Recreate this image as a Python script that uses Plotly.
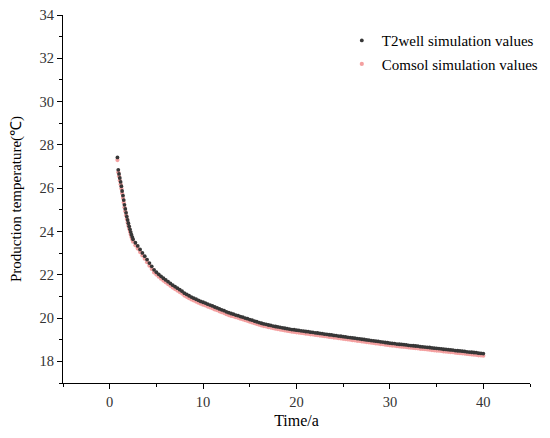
import plotly.graph_objects as go

# Time (years): monthly samples at the start, then quarterly samples
time_early = [0.83, 0.92, 1.0, 1.08, 1.17, 1.25, 1.33, 1.42, 1.5, 1.58,
              1.67, 1.75, 1.83, 1.92, 2.0, 2.08, 2.17, 2.25, 2.33, 2.42, 2.5]
time_late = [2.75, 3.0, 3.25, 3.5, 3.75, 4.0, 4.25, 4.5, 4.75, 5.0,
             5.25, 5.5, 5.75, 6.0, 6.25, 6.5, 6.75, 7.0, 7.25, 7.5,
             7.75, 8.0, 8.25, 8.5, 8.75, 9.0, 9.25, 9.5, 9.75, 10.0,
             10.25, 10.5, 10.75, 11.0, 11.25, 11.5, 11.75, 12.0, 12.25, 12.5,
             12.75, 13.0, 13.25, 13.5, 13.75, 14.0, 14.25, 14.5, 14.75, 15.0,
             15.25, 15.5, 15.75, 16.0, 16.25, 16.5, 16.75, 17.0, 17.25, 17.5,
             17.75, 18.0, 18.25, 18.5, 18.75, 19.0, 19.25, 19.5, 19.75, 20.0,
             20.25, 20.5, 20.75, 21.0, 21.25, 21.5, 21.75, 22.0, 22.25, 22.5,
             22.75, 23.0, 23.25, 23.5, 23.75, 24.0, 24.25, 24.5, 24.75, 25.0,
             25.25, 25.5, 25.75, 26.0, 26.25, 26.5, 26.75, 27.0, 27.25, 27.5,
             27.75, 28.0, 28.25, 28.5, 28.75, 29.0, 29.25, 29.5, 29.75, 30.0,
             30.25, 30.5, 30.75, 31.0, 31.25, 31.5, 31.75, 32.0, 32.25, 32.5,
             32.75, 33.0, 33.25, 33.5, 33.75, 34.0, 34.25, 34.5, 34.75, 35.0,
             35.25, 35.5, 35.75, 36.0, 36.25, 36.5, 36.75, 37.0, 37.25, 37.5,
             37.75, 38.0, 38.25, 38.5, 38.75, 39.0, 39.25, 39.5, 39.75, 40.0]

t2well_early = [27.42, 26.85, 26.66, 26.47, 26.29, 26.09, 25.87, 25.66, 25.45, 25.23,
                25.04, 24.86, 24.69, 24.53, 24.38, 24.24, 24.10, 23.97, 23.85, 23.74, 23.64]
t2well_late = [23.48, 23.33, 23.17, 23.01, 22.86, 22.70, 22.54, 22.39, 22.23, 22.12,
               22.02, 21.93, 21.84, 21.76, 21.68, 21.60, 21.52, 21.45, 21.38, 21.31,
               21.24, 21.15, 21.09, 21.03, 20.97, 20.92, 20.87, 20.82, 20.77, 20.73,
               20.69, 20.64, 20.60, 20.56, 20.51, 20.47, 20.42, 20.38, 20.34, 20.29,
               20.25, 20.21, 20.18, 20.14, 20.11, 20.07, 20.04, 20.00, 19.97, 19.93,
               19.90, 19.86, 19.83, 19.79, 19.76, 19.73, 19.71, 19.68, 19.66, 19.63,
               19.61, 19.59, 19.57, 19.55, 19.53, 19.51, 19.49, 19.47, 19.46, 19.44,
               19.43, 19.41, 19.40, 19.38, 19.37, 19.35, 19.34, 19.32, 19.31, 19.29,
               19.28, 19.26, 19.25, 19.23, 19.22, 19.20, 19.19, 19.17, 19.16, 19.14,
               19.13, 19.11, 19.10, 19.08, 19.07, 19.05, 19.04, 19.02, 19.01, 18.99,
               18.98, 18.96, 18.95, 18.93, 18.92, 18.90, 18.89, 18.87, 18.86, 18.84,
               18.83, 18.82, 18.80, 18.79, 18.78, 18.77, 18.76, 18.74, 18.73, 18.72,
               18.71, 18.70, 18.68, 18.67, 18.66, 18.65, 18.64, 18.62, 18.61, 18.60,
               18.59, 18.58, 18.56, 18.55, 18.54, 18.53, 18.52, 18.50, 18.49, 18.48,
               18.47, 18.46, 18.44, 18.43, 18.42, 18.41, 18.40, 18.38, 18.37, 18.36]

comsol_early = [27.30, 26.74, 26.55, 26.36, 26.18, 25.98, 25.76, 25.55, 25.34, 25.12,
                24.93, 24.75, 24.58, 24.42, 24.27, 24.13, 23.99, 23.86, 23.74, 23.63, 23.53]
comsol_late = [23.36, 23.21, 23.05, 22.89, 22.74, 22.58, 22.42, 22.27, 22.11, 22.01,
               21.91, 21.82, 21.73, 21.65, 21.57, 21.49, 21.41, 21.34, 21.27, 21.20,
               21.13, 21.04, 20.98, 20.92, 20.86, 20.81, 20.76, 20.71, 20.66, 20.62,
               20.58, 20.53, 20.49, 20.45, 20.40, 20.36, 20.31, 20.27, 20.23, 20.18,
               20.14, 20.10, 20.08, 20.04, 20.01, 19.97, 19.94, 19.90, 19.87, 19.83,
               19.80, 19.76, 19.73, 19.69, 19.66, 19.63, 19.61, 19.58, 19.56, 19.53,
               19.51, 19.49, 19.47, 19.45, 19.43, 19.41, 19.39, 19.37, 19.36, 19.34,
               19.33, 19.31, 19.30, 19.28, 19.27, 19.25, 19.24, 19.22, 19.21, 19.19,
               19.18, 19.16, 19.15, 19.13, 19.12, 19.10, 19.09, 19.07, 19.06, 19.04,
               19.03, 19.01, 19.00, 18.98, 18.97, 18.95, 18.94, 18.92, 18.91, 18.89,
               18.88, 18.86, 18.85, 18.83, 18.82, 18.80, 18.79, 18.77, 18.76, 18.74,
               18.73, 18.72, 18.70, 18.69, 18.68, 18.67, 18.66, 18.64, 18.63, 18.62,
               18.61, 18.60, 18.58, 18.57, 18.56, 18.55, 18.54, 18.52, 18.51, 18.50,
               18.49, 18.48, 18.46, 18.45, 18.44, 18.43, 18.42, 18.40, 18.39, 18.38,
               18.37, 18.36, 18.34, 18.33, 18.32, 18.31, 18.30, 18.28, 18.27, 18.26]

x_ticks = [0, 10, 20, 30, 40]
y_ticks = [18, 20, 22, 24, 26, 28, 30, 32, 34]

time = time_early + time_late
t2well = t2well_early + t2well_late
comsol = comsol_early + comsol_late

FONT = "Liberation Serif"

fig = go.Figure()
fig.add_trace(go.Scatter(
    x=time, y=comsol, mode="markers", name="Comsol simulation values",
    marker=dict(color="rgb(244,160,160)", size=4.2, line=dict(width=0)),
    legendrank=2, legendgroup="b"))
fig.add_trace(go.Scatter(
    x=time, y=t2well, mode="markers", name="T2well simulation values",
    marker=dict(color="rgb(55,55,55)", size=3.8, line=dict(width=0)),
    legendrank=1, legendgroup="a"))

axis_common = dict(
    showline=True, linecolor="black", linewidth=1.3, mirror=False,
    showgrid=False, zeroline=False, ticks="outside", ticklen=5, tickwidth=1.2,
    tickcolor="black", tickfont=dict(family=FONT, size=14.5, color="#333333"),
    automargin=False, ticklabeloverflow="allow",
)

fig.update_xaxes(
    range=[-5, 45], tickvals=x_ticks,
    minor=dict(dtick=5, tick0=0, ticks="outside", ticklen=3, tickwidth=1.2, tickcolor="black"),
    title=dict(text="Time/a", font=dict(family=FONT, size=16, color="black"), standoff=6),
    **axis_common)
fig.update_yaxes(
    range=[17, 34], tickvals=y_ticks,
    minor=dict(dtick=1, tick0=0, ticks="outside", ticklen=3, tickwidth=1.2, tickcolor="black"),
    title=dict(text="Production temperature(℃)", font=dict(family=FONT, size=15, color="black"), standoff=15),
    **axis_common)

fig.update_layout(
    width=542, height=430,
    margin=dict(l=55, r=20, t=7, b=55, autoexpand=False),
    paper_bgcolor="white", plot_bgcolor="white",
    showlegend=True,
    legend=dict(x=0.597, y=0.975, xanchor="left", yanchor="top",
                font=dict(family=FONT, size=15, color="black"),
                bgcolor="rgba(0,0,0,0)", traceorder="grouped", tracegroupgap=1,
                itemsizing="trace", itemwidth=30),
)

fig.write_html("out.html")
